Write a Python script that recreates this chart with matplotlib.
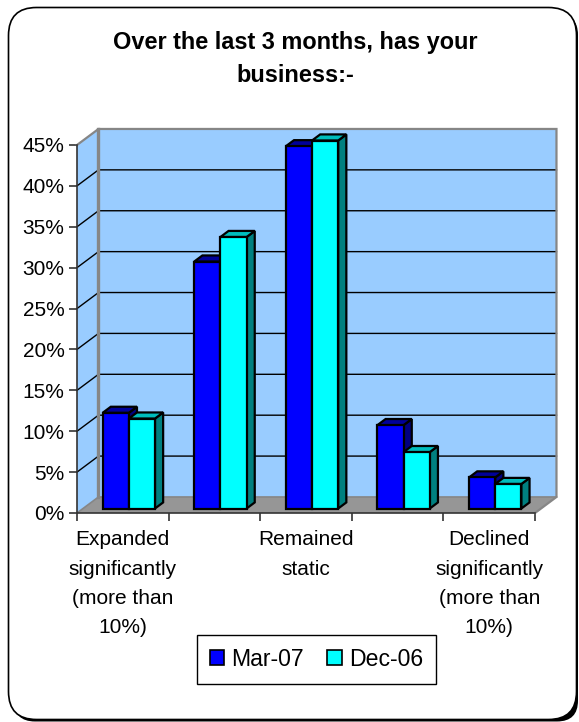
#!/usr/bin/env python3
import matplotlib
matplotlib.use('Agg')
import matplotlib.pyplot as plt
from matplotlib.patches import FancyBboxPatch, Patch, Polygon

plt.rcParams['font.family'] = ['Liberation Sans', 'DejaVu Sans']

title = 'Over the last 3 months, has your\nbusiness:-'
categories = ['Expanded\nsignificantly\n(more than\n10%)', '', 'Remained\nstatic', '',
              'Declined\nsignificantly\n(more than\n10%)']
mar07 = [11.7, 30.2, 44.3, 10.2, 3.8]
dec06 = [11.0, 33.2, 45.0, 6.9, 3.0]
yticks = [0, 5, 10, 15, 20, 25, 30, 35, 40, 45]

W, H = 579, 722
# depth of the 3d box, in data units
DX, DY = 0.2345, 1.96

fig = plt.figure(figsize=(W/100, H/100), dpi=100)
fig.patch.set_facecolor('white')

# rounded frame, black piece behind it gives the heavy lower right corner
bg = fig.add_axes([0, 0, 1, 1], zorder=0)
bg.set_xlim(0, W); bg.set_ylim(H, 0); bg.axis('off')
bg.add_patch(FancyBboxPatch((14, 14), 564, 707.5, boxstyle='round,pad=0,rounding_size=21',
                            fc='black', ec='none'))
bg.add_patch(FancyBboxPatch((8.5, 7.5), 568, 712, boxstyle='round,pad=0,rounding_size=28',
                            fc='white', ec='black', lw=1.2))

ax = fig.add_axes([77/W, 1-513/H, (535-77)/W, (513-145)/H], zorder=1)
ax.set_xlim(0, 5); ax.set_ylim(0, 45)
ax.patch.set_visible(False)
for s in ['top', 'right']:
    ax.spines[s].set_visible(False)
for s in ['left', 'bottom']:
    ax.spines[s].set_color('#333333'); ax.spines[s].set_linewidth(1.2)

def poly(pts, fc, ec='none', lw=0, z=1):
    ax.add_patch(Polygon(pts, closed=True, fc=fc, ec=ec, lw=lw, zorder=z,
                         clip_on=False, joinstyle='miter'))

# walls and floor
ymax = yticks[-1]
poly([(DX, DY), (5+DX, DY), (5+DX, ymax+DY), (DX, ymax+DY)], '#99CCFF')
poly([(0, 0), (DX, DY), (DX, ymax+DY), (0, ymax)], '#99CCFF')
poly([(0, 0), (5, 0), (5+DX, DY), (DX, DY)], '#969696')
for v in yticks[1:-1]:
    ax.plot([0, DX, 5+DX], [v, v+DY, v+DY], color='black', lw=1, zorder=2, clip_on=False)
ax.plot([0, DX, 5+DX, 5+DX, 5], [ymax, ymax+DY, ymax+DY, DY, 0], color='#868686', lw=1.6,
        zorder=2, clip_on=False, solid_joinstyle='miter')
ax.plot([DX, DX], [DY, ymax+DY], color='#868686', lw=2.4, zorder=2, clip_on=False)
ax.plot([0, DX, 5+DX], [0, DY, DY], color='#868686', lw=1.2, zorder=2, clip_on=False)

# 3d bars
bw = 0.2857
start = 0.2143
d0, d1 = 0.28, 0.66
def bar3d(x, v, front, top, side):
    x0, y0 = x + d0*DX, d0*DY
    x1 = x0 + bw
    ddx, ddy = (d1-d0)*DX, (d1-d0)*DY
    y1 = y0 + v
    poly([(x1, y0), (x1+ddx, y0+ddy), (x1+ddx, y1+ddy), (x1, y1)], side, 'black', 1.6, 3)
    poly([(x0, y1), (x1, y1), (x1+ddx, y1+ddy), (x0+ddx, y1+ddy)], top, 'black', 1.6, 3)
    poly([(x0, y0), (x1, y0), (x1, y1), (x0, y1)], front, 'black', 1.6, 3)

for i in range(len(categories)):
    bar3d(i+start, mar07[i], '#0000FF', '#00009A', '#000080')
    bar3d(i+start+bw, dec06[i], '#00FFFF', '#00BDBD', '#008080')

ax.set_yticks(yticks)
ax.set_yticklabels(['%d%%' % v for v in yticks], fontsize=15)
ax.tick_params(axis='y', length=6, width=1.2, color='#333333', pad=3)
ax.set_xticks(range(6))
ax.set_xticklabels([])
ax.tick_params(axis='x', length=6, width=1.2, color='#333333')
ax.set_xticks([i+0.5 for i in range(5)], minor=True)
ax.set_xticklabels(categories, minor=True, fontsize=15, linespacing=1.68)
ax.tick_params(axis='x', which='minor', length=0, pad=12.5)

fig.text(295/W, 1-42/H, title.split('\n')[0], ha='center', va='center', fontsize=16.9,
         fontweight='bold')
fig.text(295/W, 1-76/H, title.split('\n')[1], ha='center', va='center', fontsize=16.9,
         fontweight='bold')

handles = [Patch(fc='#0000FF', ec='black', lw=1.2, label='Mar-07'),
           Patch(fc='#00FFFF', ec='black', lw=1.2, label='Dec-06')]
leg = fig.legend(handles=handles, ncol=2, loc='upper left',
                 bbox_to_anchor=(197/W, 1-635/H), fontsize=16.6, frameon=True, fancybox=False,
                 edgecolor='black', framealpha=1, borderaxespad=0, borderpad=0.56,
                 handlelength=0.62, handleheight=0.62, handletextpad=0.32, columnspacing=1.0)
leg.get_frame().set_linewidth(1)

fig.savefig('out.png', dpi=100)
